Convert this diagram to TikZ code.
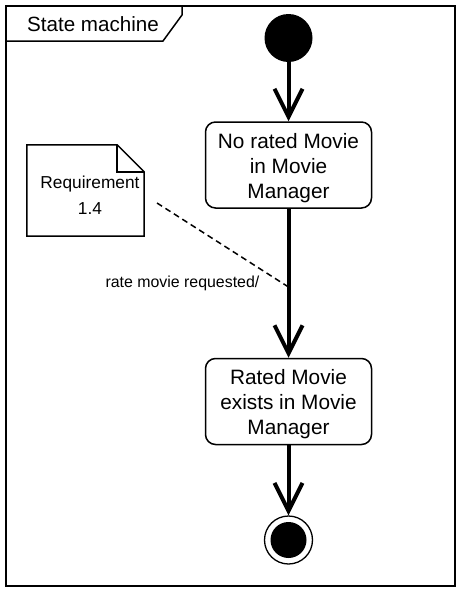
\documentclass[tikz,border=0pt]{standalone}
\usepackage{fontspec}
\setmainfont{Liberation Sans}
\usetikzlibrary{arrows.meta}
\tikzset{
  frameline/.style={line width=1.5pt},
  statebox/.style={draw, line width=1.5pt, rounded corners=10pt, minimum width=166pt, minimum height=86pt, inner sep=0pt, align=center, font=\fontsize{20.8}{25}\selectfont},
  trans/.style={line width=4pt, -{Straight Barb[length=28pt,width=28pt,line width=4pt]}},
  notebox/.style={minimum width=117pt, minimum height=91pt, inner sep=0pt, align=center, font=\fontsize{17.3}{26}\selectfont},
  noteline/.style={line width=1.5pt, line join=miter},
  anchorline/.style={line width=1.5pt, dash pattern=on 6pt off 4pt},
}
\begin{document}
\begin{tikzpicture}[x=1pt,y=-1pt]
\useasboundingbox (0,0) rectangle (461,592);
% frame
\draw[frameline] (6,6) rectangle (455,586);
\draw[frameline] (6,41) -- (163,41) -- (182,15) -- (182,6);
\node[font=\fontsize{20.6}{24}\selectfont] (title) at (93,24) {State machine};
% initial state
\node[circle, fill=black, minimum size=48pt, inner sep=0pt] (init) at (288.5,38) {};
% states
\node[statebox] (s1) at (288.5,165) {};
\node[align=center, font=\fontsize{20.8}{25}\selectfont] (s1t) at (288.5,168) {No rated Movie\\in Movie\\Manager};
\node[statebox] (s2) at (288.5,401.5) {};
\node[align=center, font=\fontsize{20.8}{25}\selectfont] (s2t) at (288.5,404) {Rated Movie\\exists in Movie\\Manager};
% final state
\node[circle, draw, line width=1.3pt, minimum size=48pt, inner sep=0pt] (fin) at (288.5,540) {};
\node[circle, fill=black, minimum size=36pt, inner sep=0pt] (finin) at (288.5,540) {};
% transitions
\draw[trans] (init) -- (s1);
\draw[trans] (s1) -- (s2);
\draw[trans] (s2) -- (fin);
% label
\node[font=\fontsize{15.9}{18}\selectfont, anchor=west] (lbl) at (102,283) {rate movie requested/};
% note
\node[notebox] (note) at (85.5,190.5) {};
\node[align=center, font=\fontsize{17.3}{26}\selectfont] (notet) at (90,195) {Requirement\\1.4};
\draw[noteline] (note.north west) -- ([xshift=-27pt]note.north east) -- ([yshift=-27pt]note.north east) -- (note.south east) -- (note.south west) -- cycle;
\draw[noteline] ([xshift=-27pt]note.north east) |- ([yshift=-27pt]note.north east);
\coordinate (ds) at (157,203);
\coordinate (de) at (288.5,287);
\draw[anchorline] (ds) -- (de);
\end{tikzpicture}
\end{document}
